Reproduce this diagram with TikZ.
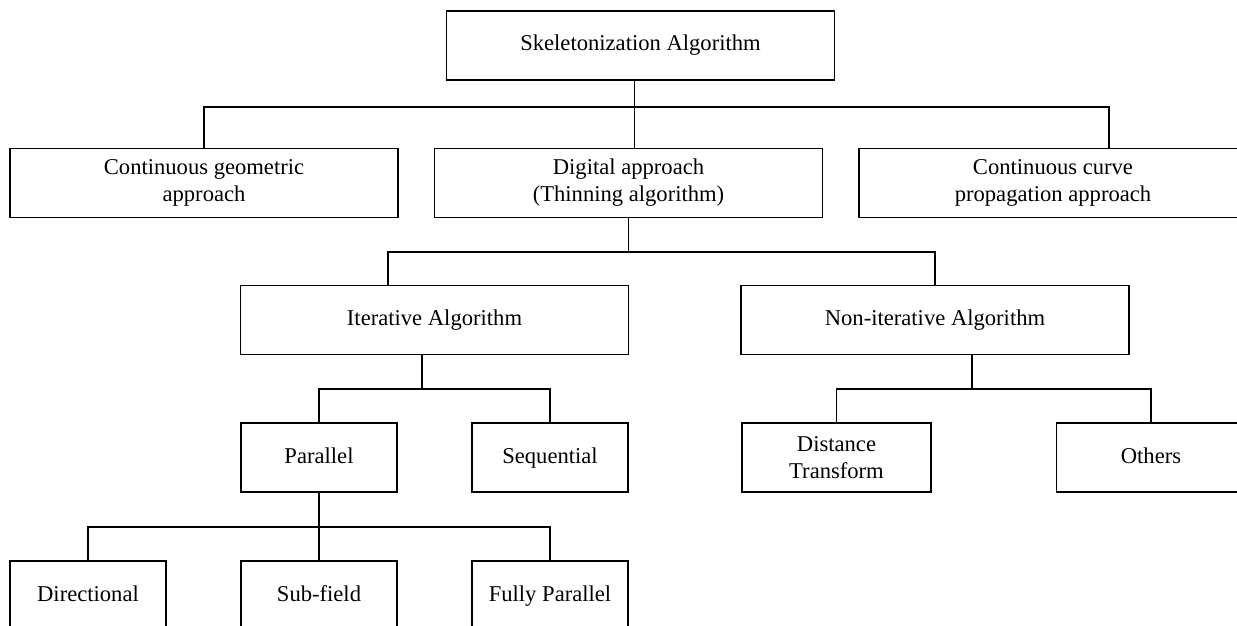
\documentclass[tikz,border=0pt]{standalone}
\usepackage{fontspec}
\setmainfont{Liberation Serif}
\begin{document}
\begin{tikzpicture}[x=0.5pt, y=-0.5pt, line width=0.95pt]

% Styles
\tikzstyle{block}  = [draw, rectangle, inner sep=0pt, align=center, minimum height=34.5pt, font=\fontsize{11.3}{13.5}\selectfont]
\tikzstyle{single} = [text height=8pt, text depth=2.5pt]
\tikzstyle{wide}   = [block, minimum width=194pt]
\tikzstyle{mid}    = [block, minimum width=94.5pt]
\tikzstyle{small}  = [block, single, minimum width=78pt]

% Frame
\useasboundingbox (0,0) rectangle (1237,626);
\clip (0,0) rectangle (1237,626);

% Nodes
\node [wide, single] (root) at (640.5,45.5) {Skeletonization Algorithm};
\node [wide] (geo) at (204,183) {Continuous geometric\\approach};
\node [wide] (digital) at (628.5,183) {Digital approach\\(Thinning algorithm)};
\node [wide] (curve) at (1053,183) {Continuous curve\\propagation approach};
\node [wide, single] (iter) at (434.5,320) {Iterative Algorithm};
\node [wide, single] (noniter) at (935,320) {Non-iterative Algorithm};
\node [small] (parallel) at (319,457.5) {Parallel};
\node [small] (sequential) at (550,457.5) {Sequential};
\node [mid] (dt) at (836.5,457.5) {Distance\\Transform};
\node [mid, single] (others) at (1151,457.5) {Others};
\node [small] (directional) at (88,595.5) {Directional};
\node [small] (subfield) at (319,595.5) {Sub-field};
\node [small] (fully) at (550,595.5) {Fully Parallel};

% Bus coordinates
\coordinate (b1) at (1109,107);
\coordinate (b2l) at (388,252);
\coordinate (b2r) at (935,252);
\coordinate (b3) at (422,389);
\coordinate (b4) at (972,389);
\coordinate (b5) at (319,527);

% Level 1
\draw ([xshift=-3pt]root.south) -- ([xshift=-3pt]root.south |- digital.north);
\draw (geo.north) |- (b1) -- (b1 |- curve.north);

% Level 2
\draw (digital.south) -- (digital.south |- b2l);
\draw (b2l |- iter.north) |- (b2r) -- (noniter.north);

% Level 3
\draw (b3) -- (b3 |- iter.south);
\draw (parallel.north) |- (b3) -| (sequential.north);
\draw (b4) -- (b4 |- noniter.south);
\draw (dt.north) |- (b4) -| (others.north);

% Level 4
\draw (parallel.south) -- (subfield.north);
\draw (directional.north) |- (b5) -| (fully.north);

\end{tikzpicture}
\end{document}
